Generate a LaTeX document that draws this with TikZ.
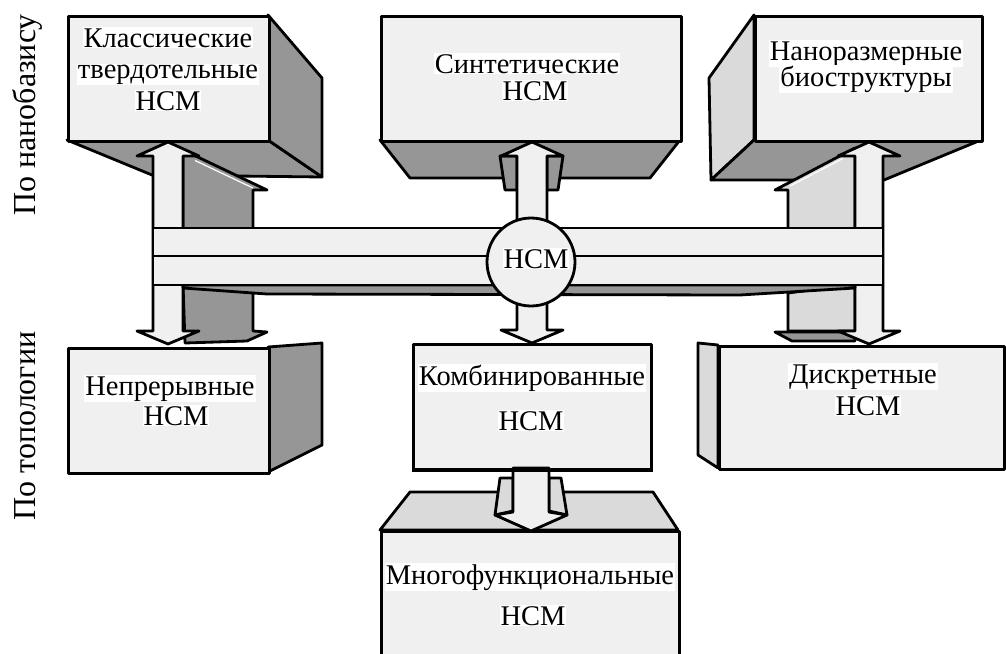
\documentclass[tikz,border=0pt]{standalone}
\usepackage{fontspec}
\setmainfont{Liberation Serif}
\definecolor{lightf}{HTML}{F0F0F0}
\definecolor{darkf}{HTML}{969696}
\definecolor{sidef}{HTML}{DADADA}
\begin{document}
\begin{tikzpicture}[x=1pt,y=-1pt,
  ol/.style={draw=black,line width=2.8pt,line join=round},
  frontface/.style={ol,fill=lightf},
  darkface/.style={ol,fill=darkf},
  sideface/.style={ol,fill=sidef},
  boxnode/.style={frontface,inner sep=0pt,anchor=north west},
  txt/.style={font=\fontsize{28.5}{31}\selectfont,fill=white,inner sep=1pt,anchor=base},
  lbl/.style={font=\fontsize{32}{36}\selectfont,rotate=90,anchor=base},
  flangeline/.style={draw=white,line width=1.2pt}]
\useasboundingbox (0,0) rectangle (1006,653);
\clip (0,0) rectangle (1006,653);

% ---------- Box 1 ----------
\draw[darkface] (67,140) -- (268,140) -- (322,177) -- (152,175) -- cycle;
\draw[darkface] (268,15) -- (322,78) -- (322,177) -- (268,140) -- cycle;
\node[boxnode,minimum width=201pt,minimum height=125pt] (b1) at (67,15) {};
% ---------- Box 2 ----------
\draw[darkface] (380,140) -- (680,140) -- (650,178) -- (410,178) -- cycle;
\node[boxnode,minimum width=300pt,minimum height=125pt] (b2) at (380,15) {};
% ---------- Box 3 ----------
\draw[sideface] (754,15) -- (709,78) -- (711,180) -- (754,140) -- cycle;
\draw[darkface] (754,140) -- (981,140) -- (884,180) -- (711,180) -- cycle;
\node[boxnode,minimum width=227pt,minimum height=125pt] (b3) at (754,15) {};
% ---------- Box 4 ----------
\draw[darkface] (268,347) -- (322,343) -- (322,445) -- (268,472) -- cycle;
\node[boxnode,minimum width=201pt,minimum height=125pt] (b4) at (67,347) {};
% ---------- Box 5 ----------
\node[boxnode,minimum width=238pt,minimum height=125pt] (b5) at (412,343) {};
% ---------- Box 6 ----------
\draw[sideface] (718,345) -- (698,343) -- (698,455) -- (718,468) -- cycle;
\node[boxnode,minimum width=285pt,minimum height=123pt] (b6) at (718,345) {};
% ---------- Box 7 ----------
\draw[sideface] (380,530) -- (410,492) -- (653,492) -- (678,530) -- cycle;
\node[boxnode,minimum width=298pt,minimum height=140pt] (b7) at (380,530) {};

% ---------- Left arrow ----------
\draw[darkface] (183,150) -- (267,190) -- (253,190) -- (253,230) -- (183,230) -- cycle;
\draw[flangeline] (195,160.5) -- (253,188);
\draw[darkface] (183,284) -- (253,293) -- (253,331) -- (267,332) -- (247,341) -- (185,343) -- cycle;
\draw[frontface] (168,142) -- (199,156) -- (183,156) -- (183,331) -- (199,331) -- (168,344)
  -- (137,331) -- (153,331) -- (153,156) -- (137,156) -- cycle;

% ---------- Right arrow ----------
\draw[sideface] (855,148) -- (775,190) -- (788,190) -- (788,230) -- (855,230) -- cycle;
\draw[flangeline] (843,158.5) -- (790,186);
\draw[sideface] (855,284) -- (788,293) -- (788,331) -- (855,331) -- cycle;
\draw[darkface] (775,332) -- (855,332) -- (855,341) -- (792,341) -- cycle;
\draw[frontface] (869,142) -- (900,156) -- (883,156) -- (883,331) -- (900,331) -- (869,344)
  -- (838,331) -- (855,331) -- (855,156) -- (838,156) -- cycle;

% ---------- Centre arrow (box 2 - box 5) ----------
\draw[darkface] (500,156) -- (517,156) -- (517,190) -- (505,190) -- cycle;
\draw[darkface] (547,156) -- (563,156) -- (558,190) -- (547,190) -- cycle;
\draw[frontface] (532,142) -- (563,156) -- (547,156) -- (547,330) -- (563,330) -- (532,343)
  -- (501,330) -- (517,330) -- (517,156) -- (501,156) -- cycle;

% ---------- Bar ----------
\draw[darkface] (183,285) -- (855,285) -- (855,288) -- (740,295) -- (267,294) -- (183,288) -- cycle;
\draw[frontface] (153,228) rectangle (883,285);
\draw[ol] (153,256) -- (883,256);
\node[frontface,circle,minimum size=88pt,inner sep=0pt] (hub) at (531,262) {};

% ---------- Arrow box 5 - box 7 ----------
\draw[sideface] (500,478) -- (513,478) -- (513,511) -- (495,515) -- cycle;
\draw[sideface] (549,478) -- (561,478) -- (567,515) -- (549,511) -- cycle;
\draw[frontface] (513,468) -- (549,468) -- (549,512) -- (567,515) -- (531,531) -- (495,515)
  -- (513,512) -- cycle;
\draw[ol] (b5.south west) -- (b5.south east);

% ---------- Texts ----------
\node[txt] (t1a) at (168,47) {Классические};
\node[txt] (t1b) at (168,78) {твердотельные};
\node[txt] (t1c) at (168,110) {НСМ};
\node[txt] (t2a) at (527,73) {Синтетические};
\node[txt] (t2b) at (535,100) {НСМ};
\node[txt] (t3a) at (866,60) {Наноразмерные};
\node[txt] (t3b) at (866,86) {биоструктуры};
\node[txt] (t4a) at (170,395) {Непрерывные};
\node[txt] (t4b) at (176,425) {НСМ};
\node[txt] (t5a) at (532,385) {Комбинированные};
\node[txt] (t5b) at (531,430) {НСМ};
\node[txt] (t6a) at (863,383) {Дискретные};
\node[txt] (t6b) at (868,415) {НСМ};
\node[txt] (t7a) at (530,584) {Многофункциональные};
\node[txt] (t7b) at (533,625) {НСМ};
\node[txt] (thub) at (536,268) {НСМ};
\node[lbl] (l1) at (35,115) {По нанобазису};
\node[lbl] (l2) at (35,426) {По топологии};
\end{tikzpicture}
\end{document}
